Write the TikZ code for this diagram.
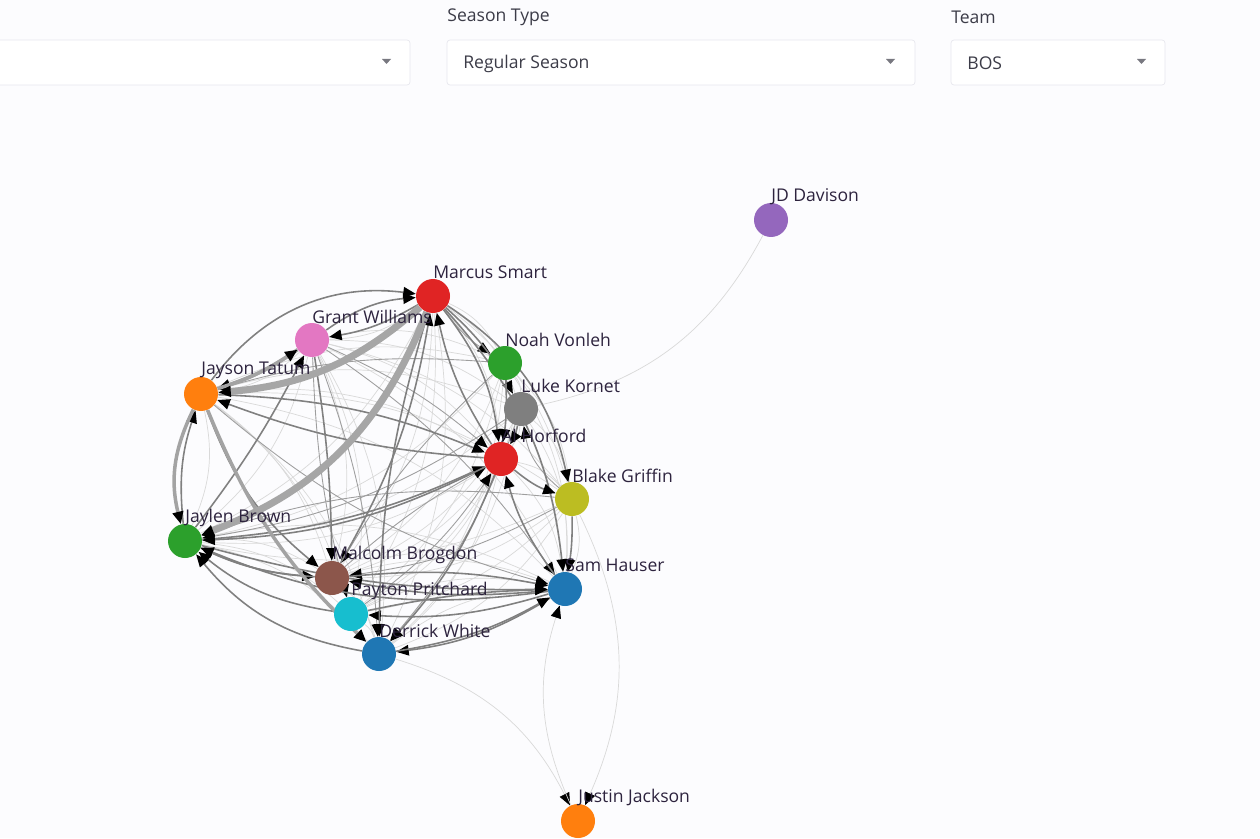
\documentclass[tikz,border=0pt]{standalone}
\usepackage{fontspec}
\setmainfont{Open Sans}
\usetikzlibrary{arrows.meta}

\definecolor{pagebg}{RGB}{252,252,254}
\definecolor{boxline}{RGB}{232,232,238}
\definecolor{uitext}{RGB}{60,60,72}
\definecolor{namec}{RGB}{45,35,62}
\definecolor{chevc}{RGB}{120,120,128}
\definecolor{pblue}{HTML}{1F77B4}
\definecolor{porange}{HTML}{FF7F0E}
\definecolor{pgreen}{HTML}{2CA02C}
\definecolor{pred}{HTML}{E02424}
\definecolor{ppurple}{HTML}{9467BD}
\definecolor{pbrown}{HTML}{8C564B}
\definecolor{ppink}{HTML}{E377C2}
\definecolor{pgray}{HTML}{7F7F7F}
\definecolor{polive}{HTML}{BCBD22}
\definecolor{pcyan}{HTML}{17BECF}

\pgfdeclarelayer{edges}
\pgfsetlayers{edges,main}

\begin{document}
\begin{tikzpicture}[x=0.02cm, y=-0.02cm,
    player/.style={circle, minimum size=0.68cm, inner sep=0pt},
    pname/.style={font=\fontsize{10}{12}\selectfont, text=namec,
      anchor=west, inner sep=0pt, label distance=0.12cm},
    uitxt/.style={font=\fontsize{10}{12}\selectfont, text=uitext,
      anchor=west, inner sep=0pt},
    uibox/.style={draw=boxline, fill=white, rounded corners=0.06cm},
    chev/.style={fill=chevc},
    tip/.style={-{Triangle[length=2.5mm, width=2.1mm, color=black]}},
    heavy/.style={line width=4pt, draw=black!35},
    wide/.style={line width=2pt, draw=black!36},
    mid/.style={line width=0.9pt, draw=black!50},
    thin/.style={line width=0.5pt, draw=black!38},
    faint/.style={line width=0.4pt, draw=black!15}]
  \useasboundingbox (0,0) rectangle (1260,838);
  \begin{pgfonlayer}{edges}
    \fill[pagebg] (0,0) rectangle (1260,838);
  \end{pgfonlayer}

  % filters
  \draw[uibox] (-10,40) rectangle (410,85);
  \draw[uibox] (447,40) rectangle (915,85);
  \draw[uibox] (951,40) rectangle (1165,85);
  \fill[chev] (382,59) -- (391,59) -- (386.5,64) -- cycle;
  \fill[chev] (886,59) -- (895,59) -- (890.5,64) -- cycle;
  \fill[chev] (1137,59) -- (1146,59) -- (1141.5,64) -- cycle;
  \node[uitxt] (stype) at (447,17.5) {Season Type};
  \node[uitxt] (stval) at (463,63.5) {Regular Season};
  \node[uitxt] (team) at (951,17) {Team};
  \node[uitxt] (teamval) at (967,63) {BOS};

  % players
  \node[player, fill=pred, label={[pname]90:Marcus Smart}] (ms) at (433,296) {};
  \node[player, fill=ppink, label={[pname]90:Grant Williams}] (gw) at (312,340) {};
  \node[player, fill=porange, label={[pname]90:Jayson Tatum}] (jt) at (201,394) {};
  \node[player, fill=pgreen, label={[pname]90:Noah Vonleh}] (nv) at (505,363) {};
  \node[player, fill=pgray, label={[pname]90:Luke Kornet}] (lk) at (521,409) {};
  \node[player, fill=pred, label={[pname]90:Al Horford}] (ah) at (501,459) {};
  \node[player, fill=polive, label={[pname]90:Blake Griffin}] (bg) at (572,499) {};
  \node[player, fill=pgreen, label={[pname]90:Jaylen Brown}] (jb) at (185,541) {};
  \node[player, fill=pbrown, label={[pname]90:Malcolm Brogdon}] (mb) at (332,578) {};
  \node[player, fill=pcyan, label={[pname]90:Payton Pritchard}] (pp) at (351,614) {};
  \node[player, fill=pblue, label={[pname]90:Derrick White}] (dw) at (379,654) {};
  \node[player, fill=pblue, label={[pname]90:Sam Hauser}] (sh) at (565,589) {};
  \node[player, fill=ppurple, label={[pname]90:JD Davison}] (jd) at (771,220) {};
  \node[player, fill=porange, label={[pname]90:Justin Jackson}] (jj) at (578,821) {};

  % passes
  \begin{pgfonlayer}{edges}
    \foreach \s [count=\i] in {ms,gw,jt,nv,lk,ah,bg,jb,mb,pp,dw,sh} {
      \foreach \t [count=\j] in {ms,gw,jt,nv,lk,ah,bg,jb,mb,pp,dw,sh} {
        \ifnum\j>\i \draw[faint] (\s) to[bend left=18] (\t); \fi
      }
    }
    \draw[faint] (lk) to[bend right=25] (jd);
    \draw[faint, tip] (dw) to[bend left=23] (jj);
    \draw[faint, tip] (bg) to[bend left=25] (jj);
    \draw[faint, tip] (jj) to[bend left=21] (sh);
    \foreach \s/\t/\b in {gw/ah/8, gw/sh/10, nv/jt/-10, lk/jb/12, bg/jb/-12,
        bg/mb/10, nv/mb/-8, lk/dw/10, gw/pp/-6, pp/ah/-10, mb/ah/6, ms/nv/-10,
        bg/lk/20, jt/sh/-12, gw/dw/8}
      \draw[thin, tip] (\s) to[bend left=\b] (\t);
    \foreach \s/\t/\b in {jt/ms/30, gw/ms/15, ms/gw/10, jb/gw/-5, ms/ah/15,
        ms/lk/10, ms/bg/22, ms/sh/18, ah/ms/10, mb/ms/-10, jt/ah/10, ah/jt/8,
        jb/ah/-10, ah/jb/12, sh/jb/15, dw/jb/20, jb/mb/-10, jb/sh/-8,
        sh/mb/8, mb/sh/8, pp/sh/5, sh/pp/10, sh/dw/12, dw/sh/-10, ah/dw/10,
        ms/dw/-8, nv/ah/5, lk/ah/10, ah/bg/-10, bg/sh/5, sh/ah/10,
        jt/mb/-15, mb/jb/10, pp/jb/15, jb/jt/12, gw/mb/4}
      \draw[mid, tip] (\s) to[bend left=\b] (\t);
    \foreach \s/\t/\b in {gw/jt/8, jt/gw/-8, jt/dw/-12, jt/jb/-20}
      \draw[wide, tip] (\s) to[bend left=\b] (\t);
    \foreach \s/\t/\b in {ms/jt/18, ms/jb/24}
      \draw[heavy, tip] (\s) to[bend left=\b] (\t);
  \end{pgfonlayer}
\end{tikzpicture}
\end{document}
